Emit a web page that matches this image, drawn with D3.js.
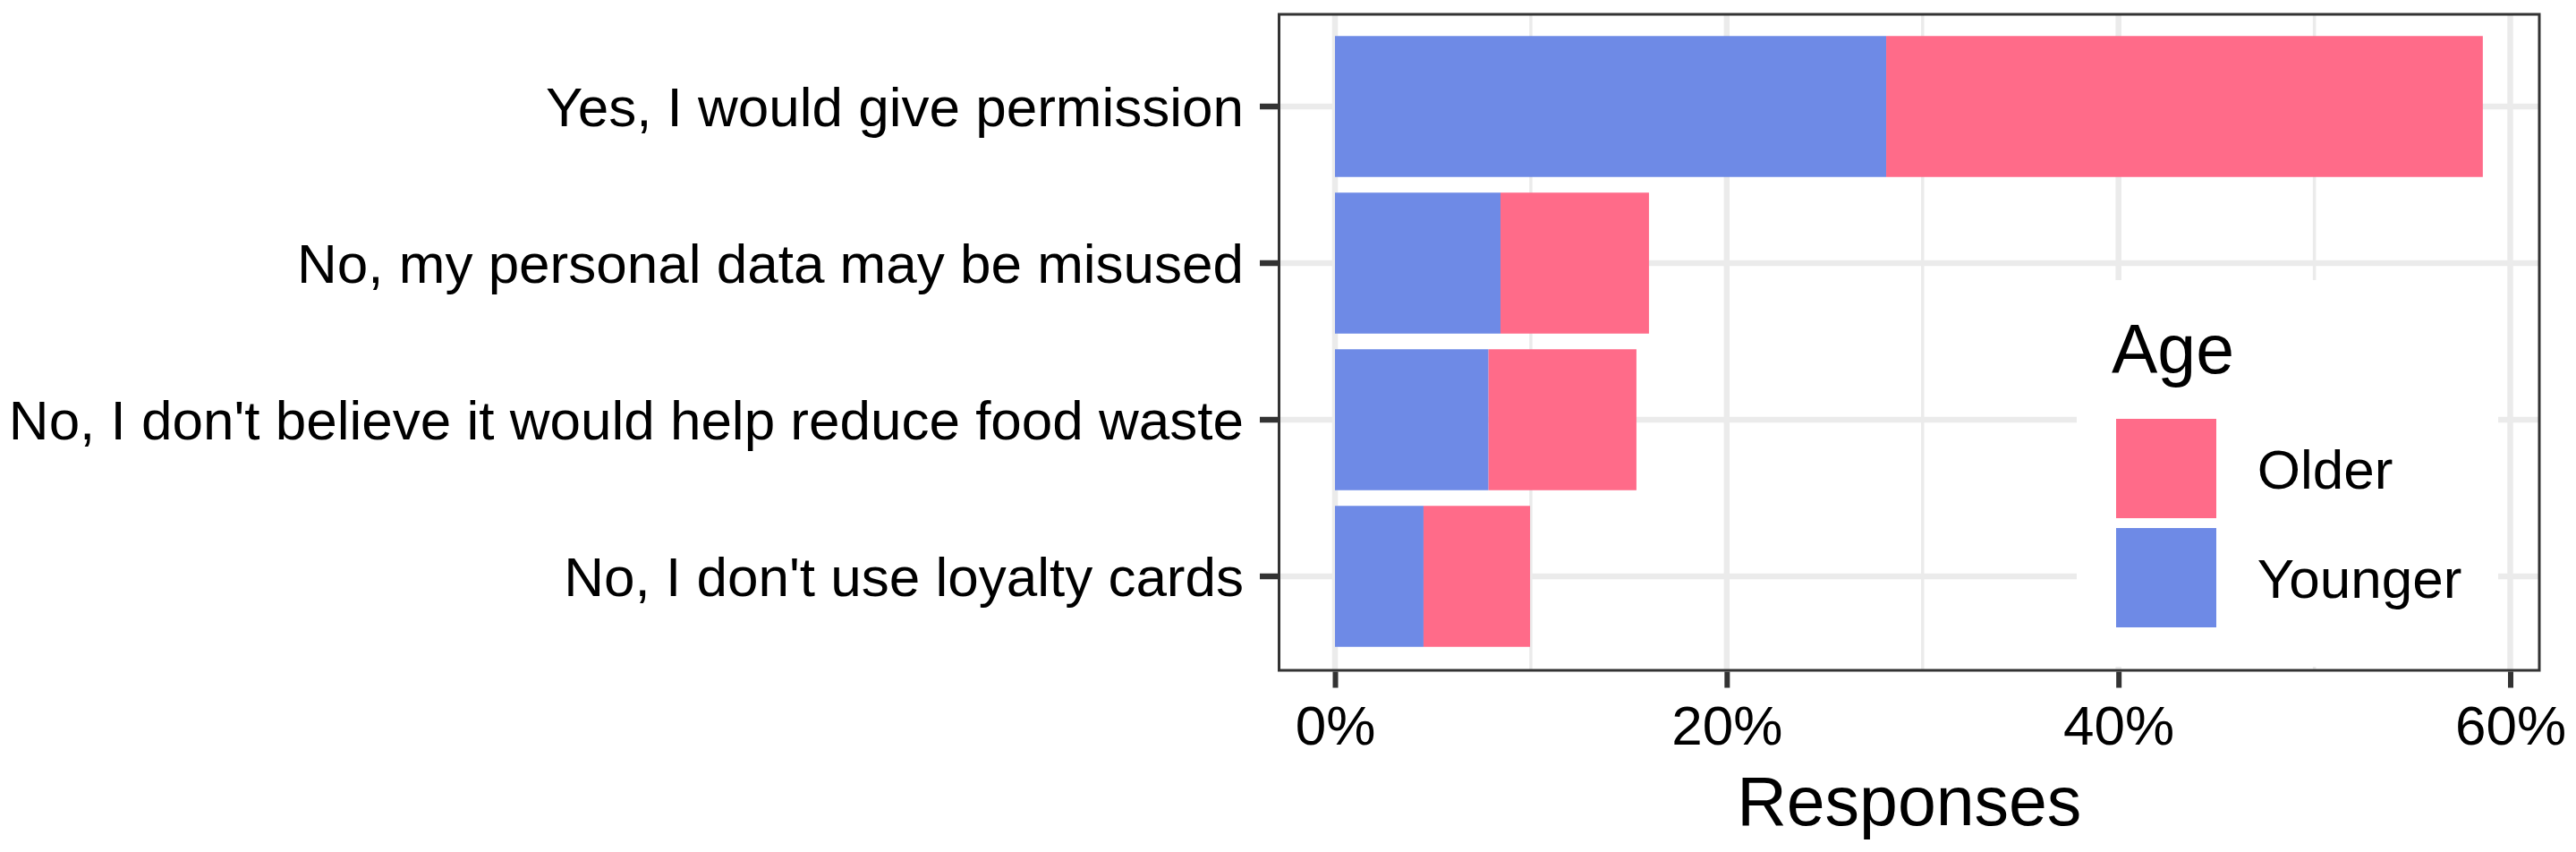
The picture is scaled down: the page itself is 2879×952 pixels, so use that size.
<!DOCTYPE html>
<html>
<head>
<meta charset="utf-8">
<script src="https://cdn.jsdelivr.net/npm/d3@7"></script>
<style>
  html, body { margin: 0; padding: 0; background: #fff; }
  svg { display: block; }
  text { font-family: "Liberation Sans", Arial, sans-serif; fill: #000; }
</style>
</head>
<body>
<svg id="chart" width="2879" height="952"></svg>
<script>
const categories = [
  "Yes, I would give permission",
  "No, my personal data may be misused",
  "No, I don't believe it would help reduce food waste",
  "No, I don't use loyalty cards"
];
const younger = [0.2814, 0.0845, 0.0784, 0.0452];
const older   = [0.3046, 0.0758, 0.0755, 0.0544];
const groups = ["Older", "Younger"];
const groupColors = ["#FF6B89", "#6E8AE6"];
const xTicks = [0, 0.2, 0.4, 0.6];
const xMinorTicks = [0.1, 0.3, 0.5];

const svg = d3.select("#chart");
const panel = { left: 1429.5, right: 2838, top: 16, bottom: 749 };

const x = d3.scaleLinear().domain([0, 0.6]).range([1492, 2805.5]);
const y = d3.scaleBand().domain(categories).range([14, 749])
  .paddingInner(0.1).paddingOuter(0.15);
const color = d3.scaleOrdinal().domain(groups).range(groupColors);

// panel background
svg.append("rect").attr("x", panel.left).attr("y", panel.top)
  .attr("width", panel.right - panel.left).attr("height", panel.bottom - panel.top)
  .attr("fill", "#fff");

// grid
const grid = svg.append("g");
grid.selectAll(".minor").data(xMinorTicks).join("line")
  .attr("x1", d => x(d)).attr("x2", d => x(d))
  .attr("y1", panel.top).attr("y2", panel.bottom)
  .attr("stroke", "#EBEBEB").attr("stroke-width", 3.5);
grid.selectAll(".majorx").data(xTicks).join("line")
  .attr("x1", d => x(d)).attr("x2", d => x(d))
  .attr("y1", panel.top).attr("y2", panel.bottom)
  .attr("stroke", "#EBEBEB").attr("stroke-width", 6.5);
grid.selectAll(".majory").data(categories).join("line")
  .attr("x1", panel.left).attr("x2", panel.right)
  .attr("y1", d => y(d) + y.bandwidth() / 2).attr("y2", d => y(d) + y.bandwidth() / 2)
  .attr("stroke", "#EBEBEB").attr("stroke-width", 6.5);

// stacked bars
const rows = categories.map((c, i) => ({ cat: c, Younger: younger[i], Older: older[i] }));
const stack = d3.stack().keys(["Younger", "Older"])(rows);
svg.append("g").selectAll("g").data(stack).join("g")
  .attr("fill", d => color(d.key))
  .selectAll("rect").data(d => d).join("rect")
  .attr("x", d => x(d[0]))
  .attr("width", d => x(d[1]) - x(d[0]))
  .attr("y", d => y(d.data.cat))
  .attr("height", y.bandwidth());

// legend
const lg = svg.append("g");
lg.append("rect").attr("x", 2321).attr("y", 313).attr("width", 2792 - 2321).attr("height", 745 - 313)
  .attr("fill", "#fff");
lg.append("text").attr("x", 2360).attr("y", 416.7).attr("font-size", 77).text("Age");
const keyTops = [468, 590];
groups.forEach((g, i) => {
  lg.append("rect").attr("x", 2365).attr("y", keyTops[i]).attr("width", 112).attr("height", 111)
    .attr("fill", color(g));
  lg.append("text").attr("x", 2522.7).attr("y", keyTops[i] + 55.5).attr("dy", "0.36em")
    .attr("font-size", 62).text(g);
});

// border
svg.append("rect").attr("x", panel.left).attr("y", panel.top)
  .attr("width", panel.right - panel.left).attr("height", panel.bottom - panel.top)
  .attr("fill", "none").attr("stroke", "#333333").attr("stroke-width", 3);

// y axis
const yAxis = svg.append("g").attr("transform", `translate(${panel.left - 1.5},0)`)
  .call(d3.axisLeft(y).tickSize(20).tickPadding(18));
yAxis.select(".domain").remove();
yAxis.selectAll(".tick line").attr("stroke", "#333333").attr("stroke-width", 6.5);
yAxis.selectAll(".tick text").attr("font-size", 62).attr("fill", "#000")
  .attr("font-family", "'Liberation Sans', Arial, sans-serif").attr("dy", "0.36em");

// x axis
const xAxis = svg.append("g").attr("transform", `translate(0,${panel.bottom + 1.5})`)
  .call(d3.axisBottom(x).tickValues(xTicks).tickFormat(d3.format(".0%")).tickSize(18).tickPadding(19));
xAxis.select(".domain").remove();
xAxis.selectAll(".tick line").attr("stroke", "#333333").attr("stroke-width", 6);
xAxis.selectAll(".tick text").attr("font-size", 62).attr("fill", "#000")
  .attr("font-family", "'Liberation Sans', Arial, sans-serif");

// axis title
svg.append("text").attr("x", (panel.left + panel.right) / 2).attr("y", 922)
  .attr("text-anchor", "middle").attr("font-size", 77).text("Responses");
</script>
</body>
</html>
